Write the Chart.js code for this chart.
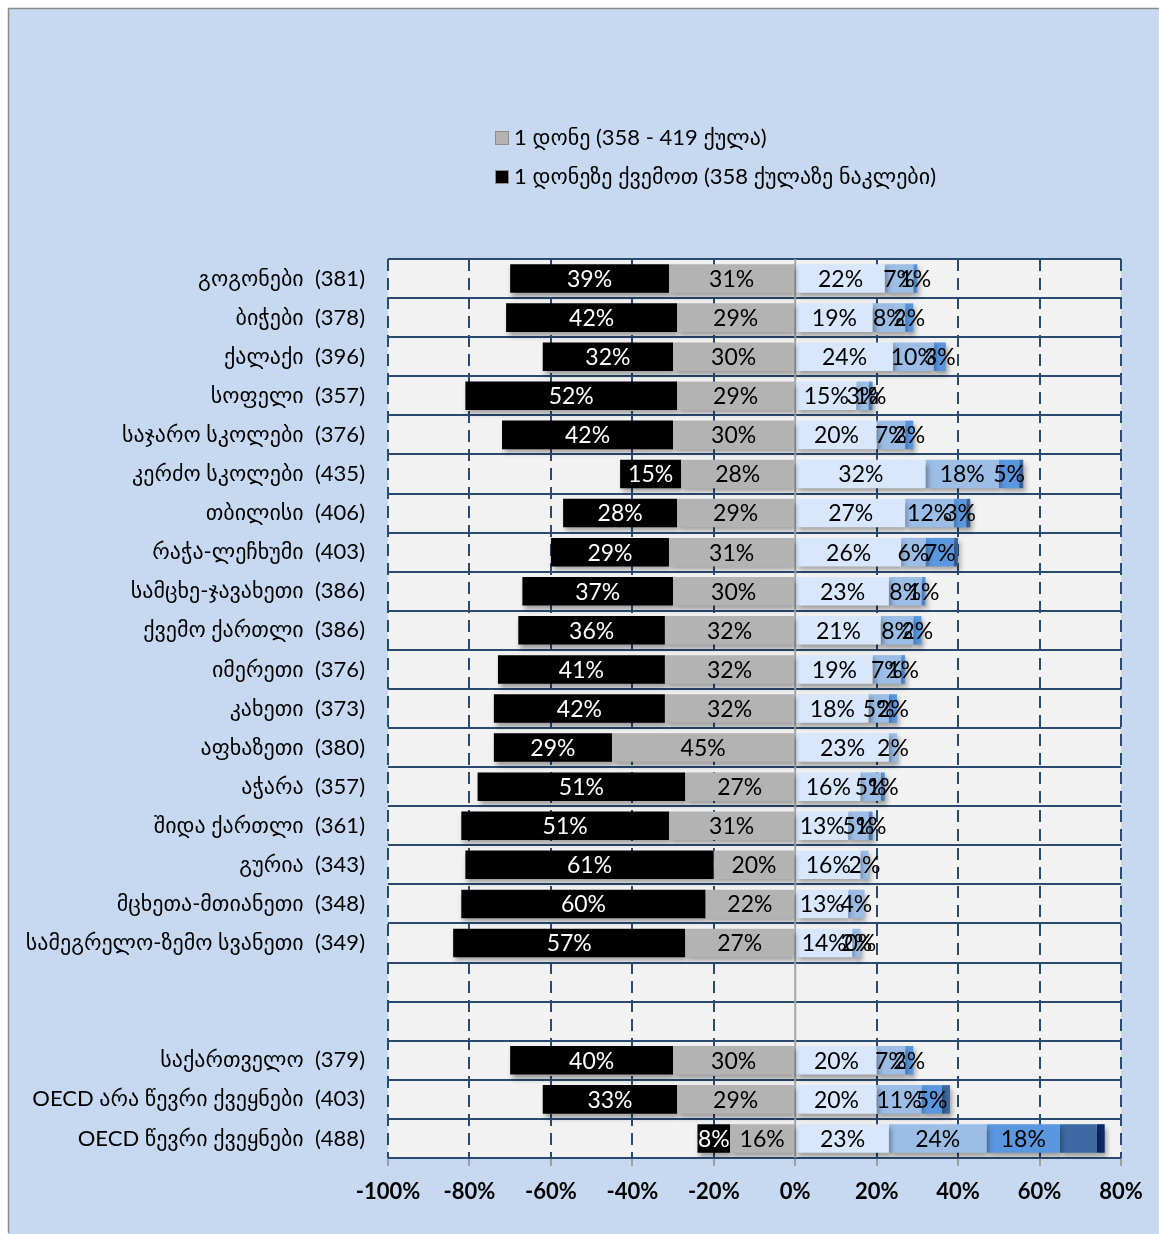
<!DOCTYPE html>
<html>
<head>
<meta charset="utf-8">
<script src="https://cdn.jsdelivr.net/npm/chart.js@4.4.1/dist/chart.umd.min.js"></script>
<style>
html, body { margin: 0; padding: 0; background: #fff; }
#wrap { width: 1159px; height: 1234px; }
</style>
</head>
<body>
<div id="wrap"><canvas id="myChart"></canvas></div>
<script>
var categories = [
    'გოგონები  (381)',
    'ბიჭები  (378)',
    'ქალაქი  (396)',
    'სოფელი  (357)',
    'საჯარო სკოლები  (376)',
    'კერძო სკოლები  (435)',
    'თბილისი  (406)',
    'რაჭა-ლეჩხუმი  (403)',
    'სამცხე-ჯავახეთი  (386)',
    'ქვემო ქართლი  (386)',
    'იმერეთი  (376)',
    'კახეთი  (373)',
    'აფხაზეთი  (380)',
    'აჭარა  (357)',
    'შიდა ქართლი  (361)',
    'გურია  (343)',
    'მცხეთა-მთიანეთი  (348)',
    'სამეგრელო-ზემო სვანეთი  (349)',
    '',
    '',
    'საქართველო  (379)',
    'OECD არა წევრი ქვეყნები  (403)',
    'OECD წევრი ქვეყნები  (488)'
];

// values in % of students
var level1 =      [31, 29, 30, 29, 30, 28, 29, 31, 30, 32, 32, 32, 45, 27, 31, 20, 22, 27, null, null, 30, 29, 16];
var belowLevel1 = [39, 42, 32, 52, 42, 15, 28, 29, 37, 36, 41, 42, 29, 51, 51, 61, 60, 57, null, null, 40, 33, 8];
var level2 =      [22, 19, 24, 15, 20, 32, 27, 26, 23, 21, 19, 18, 23, 16, 13, 16, 13, 14, null, null, 20, 20, 23];
var level3 =      [7, 8, 10, 3, 7, 18, 12, 6, 8, 8, 7, 5, 2, 5, 5, 2, 4, 2, null, null, 7, 11, 24];
var level4 =      [1, 2, 3, 1, 2, 5, 3, 7, 1, 2, 1, 2, null, 1, 1, null, null, 0, null, null, 2, 5, 18];
var level5 =      [null, null, null, null, null, 1, 1, 1, null, null, null, null, null, null, null, null, null, null, null, null, null, 2, 9];
var level6 =      [null, null, null, null, null, null, null, null, null, null, null, null, null, null, null, null, null, null, null, null, null, null, 2];

var xTicks = [-100, -80, -60, -40, -20, 0, 20, 40, 60, 80];

var legendLabels = ['1 დონე (358 - 419 ქულა)', '1 დონეზე ქვემოთ (358 ქულაზე ნაკლები)'];

function neg(arr) {
    return arr.map(function (v) { return v === null ? null : -v; });
}

var FONT = 'Lato, "DejaVu Sans", sans-serif';

var backgroundPlugin = {
    id: 'background',
    beforeDraw: function (chart) {
        var ctx = chart.ctx;
        var a = chart.chartArea;
        ctx.save();
        ctx.fillStyle = '#C6D9F1';
        ctx.fillRect(8, 8, 1151, 1226);
        ctx.strokeStyle = '#8C8C8C';
        ctx.lineWidth = 1.5;
        ctx.beginPath();
        ctx.moveTo(8.5, 1233);
        ctx.lineTo(8.5, 8.5);
        ctx.lineTo(1159, 8.5);
        ctx.stroke();
        ctx.fillStyle = '#F2F2F2';
        ctx.fillRect(a.left, a.top, a.right - a.left, a.bottom - a.top);
        ctx.restore();
    }
};

var barsPlugin = {
    id: 'barsExtra',
    beforeDatasetsDraw: function (chart) {
        var ctx = chart.ctx;
        var a = chart.chartArea;
        var x0 = chart.scales.x.getPixelForValue(0);
        ctx.save();
        ctx.strokeStyle = '#A6A6A6';
        ctx.lineWidth = 2;
        ctx.beginPath();
        ctx.moveTo(x0, a.top);
        ctx.lineTo(x0, a.bottom);
        ctx.stroke();
        ctx.restore();
        ctx.save();
        ctx.shadowColor = 'rgba(0,0,0,0.35)';
        ctx.shadowBlur = 5;
        ctx.shadowOffsetX = 2;
        ctx.shadowOffsetY = 4;
    },
    afterDatasetsDraw: function (chart) {
        var ctx = chart.ctx;
        var xs = chart.scales.x;
        ctx.restore();
        ctx.save();
        ctx.font = '23px ' + FONT;
        ctx.textAlign = 'center';
        ctx.textBaseline = 'middle';
        chart.data.datasets.forEach(function (ds, i) {
            if (!ds.showLabel) return;
            var meta = chart.getDatasetMeta(i);
            meta.data.forEach(function (bar, j) {
                var v = ds.data[j];
                if (v === null) return;
                var p = bar.getCenterPoint();
                var x = p.x;
                if (v === 0) {
                    // a zero segment sits at the end of the positive stack
                    var sum = 0;
                    for (var k = 0; k < i; k++) {
                        var w = chart.data.datasets[k].data[j];
                        if (w !== null && w > 0) sum += w;
                    }
                    x = xs.getPixelForValue(sum);
                }
                ctx.fillStyle = ds.labelColor;
                ctx.fillText(Math.abs(v) + '%', x, p.y + 1);
            });
        });
        ctx.restore();
    },
    afterDraw: function (chart) {
        var ctx = chart.ctx;
        var ys = [138, 177];
        ctx.save();
        ctx.font = '22px ' + FONT;
        ctx.textAlign = 'left';
        ctx.textBaseline = 'middle';
        for (var i = 0; i < 2; i++) {
            var ds = chart.data.datasets[i];
            ctx.fillStyle = ds.backgroundColor;
            ctx.fillRect(495, ys[i] - 7, 14, 14);
            ctx.strokeStyle = '#8C8C8C';
            ctx.lineWidth = 1;
            ctx.strokeRect(495.5, ys[i] - 6.5, 13, 13);
            ctx.fillStyle = '#000';
            ctx.fillText(ds.label, 514, ys[i]);
        }
        ctx.restore();
    }
};

var ctx = document.getElementById('myChart').getContext('2d');
var myChart = new Chart(ctx, {
    type: 'bar',
    data: {
        labels: categories,
        datasets: [{
            label: legendLabels[0],
            data: neg(level1),
            backgroundColor: '#B3B3B3',
            showLabel: true,
            labelColor: '#000'
        },
        {
            label: legendLabels[1],
            data: neg(belowLevel1),
            backgroundColor: '#000000',
            showLabel: true,
            labelColor: '#fff'
        },
        {
            label: '2 დონე',
            data: level2,
            backgroundColor: '#D8E7FB',
            showLabel: true,
            labelColor: '#000'
        },
        {
            label: '3 დონე',
            data: level3,
            backgroundColor: '#9BBDE6',
            showLabel: true,
            labelColor: '#000'
        },
        {
            label: '4 დონე',
            data: level4,
            backgroundColor: '#5A97DF',
            showLabel: true,
            labelColor: '#000'
        },
        {
            label: '5 დონე',
            data: level5,
            backgroundColor: '#3D6AA5'
        },
        {
            label: '6 დონე',
            data: level6,
            backgroundColor: '#0D2A6E'
        }]
    },
    options: {
        indexAxis: 'y',
        responsive: true,
        maintainAspectRatio: false,
        animation: false,
        categoryPercentage: 1,
        barPercentage: 0.73,
        layout: {
            padding: { top: 259, right: 38, left: 0, bottom: 0 }
        },
        scales: {
            x: {
                stacked: true,
                min: -100,
                max: 80,
                afterBuildTicks: function (scale) {
                    scale.ticks = xTicks.map(function (v) { return { value: v }; });
                },
                afterFit: function (scale) { scale.height = 76; },
                ticks: {
                    padding: 13,
                    color: '#000',
                    font: { family: FONT, size: 22, weight: 'bold' },
                    callback: function (v) { return v + '%'; }
                },
                grid: {
                    color: function (c) { return c.tick && c.tick.value === 0 ? 'rgba(0,0,0,0)' : '#2A4A70'; },
                    lineWidth: 2,
                    tickColor: '#8C8C8C',
                    tickLength: 8,
                    tickWidth: 1.5
                },
                border: {
                    display: false,
                    dash: [12, 7]
                }
            },
            y: {
                stacked: true,
                afterFit: function (scale) { scale.width = 388; },
                ticks: {
                    padding: 23,
                    color: '#000',
                    font: { family: FONT, size: 22 }
                },
                grid: {
                    offset: true,
                    color: function (c) { return c.index === categories.length ? '#8C8C8C' : '#2A4A70'; },
                    lineWidth: 2,
                    drawTicks: false
                },
                border: { display: false }
            }
        },
        plugins: {
            legend: { display: false },
            tooltip: { enabled: true }
        }
    },
    plugins: [backgroundPlugin, barsPlugin]
});
</script>
</body>
</html>
